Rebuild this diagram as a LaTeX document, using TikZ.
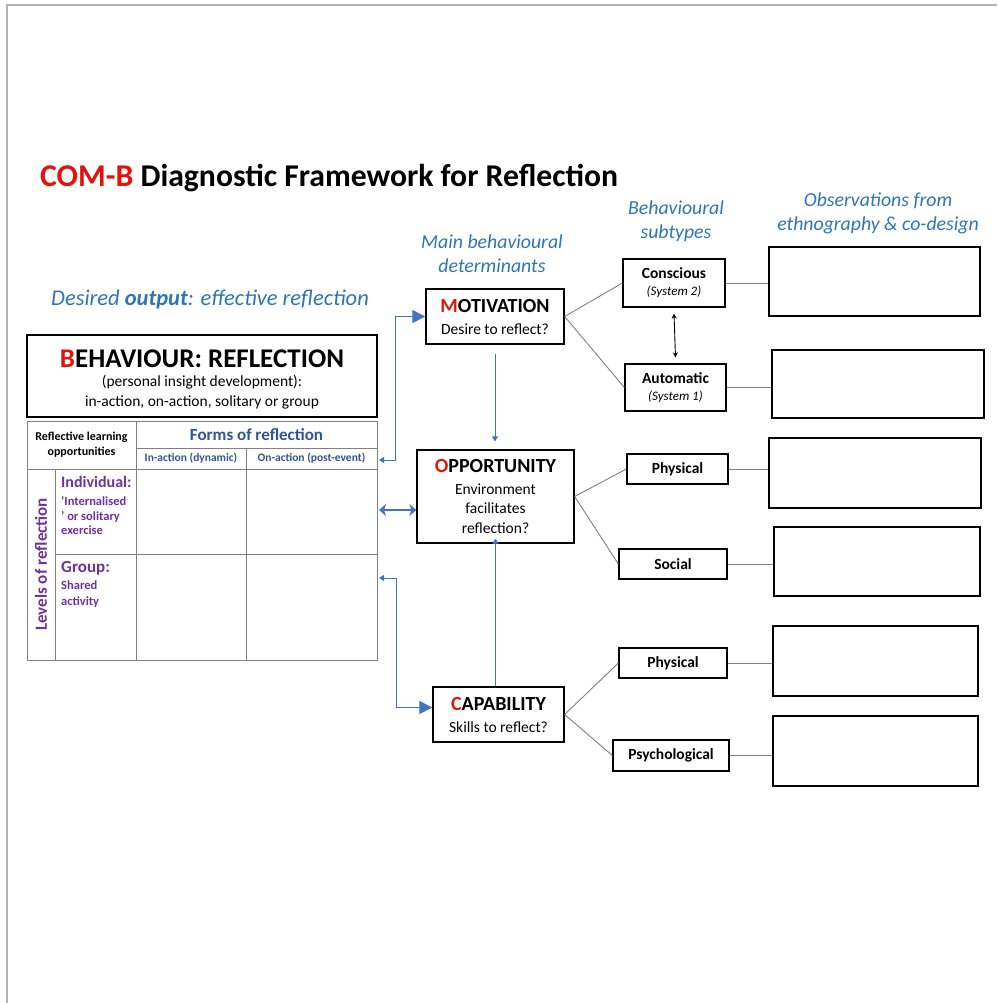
\documentclass[tikz,border=0pt]{standalone}
\usepackage{fontspec}
\setmainfont{Carlito}
\usetikzlibrary{arrows.meta,calc}
\definecolor{tred}{HTML}{E3120B}
\definecolor{lblue}{HTML}{2E75B6}
\definecolor{dblue}{HTML}{2F5597}
\definecolor{purp}{HTML}{7030A0}
\definecolor{arrblue}{HTML}{4472C4}
\definecolor{gridgray}{HTML}{808080}
\newcommand{\fsz}[2]{\fontsize{#1}{#2}\selectfont}
\begin{document}
\begin{tikzpicture}[x=1pt,y=-1pt,
  box/.style={draw=black, line width=1.3pt, inner sep=0pt, align=center},
  obsbox/.style={draw=black, line width=1.3pt, inner sep=0pt},
  cell/.style={draw=gridgray, line width=0.8pt, inner sep=0pt},
  bluelabel/.style={text=lblue, align=center, font=\fsz{19.8}{24}\itshape},
  link/.style={draw=gridgray, line width=0.9pt},
  bigarrow/.style={draw=arrblue, line width=0.9pt, {Triangle[length=5pt,width=6pt]}-{Triangle[length=13pt,width=13pt]}},
  thinarrow/.style={draw=arrblue, line width=0.8pt, -{Triangle[length=5pt,width=6pt]}},
  duoarrow/.style={draw=arrblue, line width=1.8pt, {Stealth[length=7pt,width=12pt,inset=2pt]}-{Stealth[length=7pt,width=12pt,inset=2pt]}}
]
\useasboundingbox (0,0) rectangle (997,1003);
% page frame
\draw[gray!60, line width=1.2pt] (7,1003) -- (7,5) -- (997,5);

% title and headings
\node[anchor=base west, inner sep=0pt, font=\fsz{31.7}{36}\bfseries] (title) at (40,186)
  {\textcolor{tred}{COM-B} Diagnostic Framework for Reflection};
\node[text=lblue, inner sep=0pt, font=\fsz{22.5}{26}\itshape] (desired) at (210,299)
  {Desired \textbf{output}: effective reflection};
\node[bluelabel] (mainlab) at (492,254) {Main behavioural\\determinants};
\node[bluelabel] (sublab) at (676,221) {Behavioural\\subtypes};
\node[bluelabel] (obslab) at (878,213) {Observations from\\ethnography \& co-design};

% behaviour box
\node[box, line width=1.8pt, minimum width=350pt, minimum height=82pt] (beh) at (202,376) {};
\node[align=center, inner sep=0pt, font=\fsz{15.5}{20}] (behtxt) at (202,379)
  {{\fsz{27}{30}\bfseries\textcolor{tred}{B}EHAVIOUR: REFLECTION}\\[-1pt]
   (personal insight development):\\
   in-action, on-action, solitary or group};

% reflection table
\node[cell, minimum width=109pt, minimum height=48pt, align=center,
      font=\fsz{12}{15}\bfseries] (rlo) at (81.5,445) {Reflective learning\\opportunities};
\node[cell, minimum width=241pt, minimum height=27pt, text=dblue,
      font=\fsz{17}{20}\bfseries] (forms) at (256.5,434.5) {Forms of reflection};
\node[cell, minimum width=110pt, minimum height=21pt, text=dblue,
      font=\fsz{11.5}{14}\bfseries] (inact) at (191,458.5) {In-action (dynamic)};
\node[cell, minimum width=131pt, minimum height=21pt, text=dblue,
      font=\fsz{11.5}{14}\bfseries] (onact) at (311.5,458.5) {On-action (post-event)};
\node[cell, minimum width=28pt, minimum height=191pt] (levels) at (41,564.5) {};
\node[rotate=90, text=purp, font=\fsz{17}{20}\bfseries] (levtxt) at (levels.center) {Levels of reflection};
\node[cell, minimum width=81pt, minimum height=85pt] (indiv) at (95.5,511.5) {};
\node[cell, minimum width=81pt, minimum height=106pt] (group) at (95.5,607) {};
\node[cell, minimum width=110pt, minimum height=85pt] (c11) at (191,511.5) {};
\node[cell, minimum width=131pt, minimum height=85pt] (c12) at (311.5,511.5) {};
\node[cell, minimum width=110pt, minimum height=106pt] (c21) at (191,607) {};
\node[cell, minimum width=131pt, minimum height=106pt] (c22) at (311.5,607) {};
\node[anchor=north west, inner sep=0pt, text=purp, align=left, font=\fsz{12.5}{14.8}\bfseries]
  (indivtxt) at (61,476) {{\fsz{16}{19}Individual:}\\[3pt]`Internalised\\' or solitary\\exercise};
\node[anchor=north west, inner sep=0pt, text=purp, align=left, font=\fsz{12.5}{16}\bfseries]
  (grouptxt) at (61,561) {{\fsz{17}{19}Group:}\\[1pt]Shared\\activity};

% table attachment points
\coordinate (tA) at (379,460);
\coordinate (tB) at (379,510);
\coordinate (tC) at (379,578);

% main determinants
\node[box, minimum width=138pt, minimum height=55pt, font=\fsz{15.5}{22}] (motiv) at (495,316.5)
  {{\fsz{20}{22}\bfseries\textcolor{tred}{M}OTIVATION}\\Desire to reflect?};
\node[box, minimum width=157pt, minimum height=93pt, font=\fsz{15.5}{19.5}] (opp) at (495.5,496.5)
  {{\fsz{20}{22}\bfseries\textcolor{tred}{O}PPORTUNITY}\\[2pt]Environment\\facilitates\\reflection?};
\node[box, minimum width=131pt, minimum height=55pt, font=\fsz{15.5}{22}] (cap) at (498.5,714.5)
  {{\fsz{20}{22}\bfseries\textcolor{tred}{C}APABILITY}\\Skills to reflect?};

% subtypes
\node[box, minimum width=102pt, minimum height=48pt, font=\fsz{13}{17}] (consc) at (674,283)
  {{\fsz{15.5}{18}\bfseries Conscious}\\\textit{(System 2)}};
\node[box, minimum width=101pt, minimum height=47pt, font=\fsz{13}{17}] (autom) at (675.5,387.5)
  {{\fsz{15.5}{18}\bfseries Automatic}\\\textit{(System 1)}};
\node[box, minimum width=101pt, minimum height=30pt, font=\fsz{15.5}{18}\bfseries] (physo) at (677.5,469) {Physical};
\node[box, minimum width=108pt, minimum height=30pt, font=\fsz{15.5}{18}\bfseries] (social) at (673,564) {Social};
\node[box, minimum width=108pt, minimum height=30pt, font=\fsz{15.5}{18}\bfseries] (physc) at (673,663) {Physical};
\node[box, minimum width=116pt, minimum height=31pt, font=\fsz{15.5}{18}\bfseries] (psych) at (671,755.5) {Psychological};

% observation boxes
\node[obsbox, minimum width=211pt, minimum height=69pt] (obs1) at (874.5,281.5) {};
\node[obsbox, minimum width=212pt, minimum height=68pt] (obs2) at (878,384) {};
\node[obsbox, minimum width=212pt, minimum height=70pt] (obs3) at (875,473) {};
\node[obsbox, minimum width=206pt, minimum height=69pt] (obs4) at (877,561.5) {};
\node[obsbox, minimum width=205pt, minimum height=70pt] (obs5) at (875.5,661) {};
\node[obsbox, minimum width=205pt, minimum height=70pt] (obs6) at (875.5,751) {};

% blue arrows between table and determinants
\draw[bigarrow] (tA) -- ++(16,0) |- (motiv.west);
\draw[duoarrow] (tB) -- (tB -| opp.west);
\draw[bigarrow] (tC) -- ++(17,0) |- ([yshift=7pt]cap.west);
\draw[thinarrow, shorten <=9pt, shorten >=8pt] (motiv.south) -- (motiv.south |- opp.north);
\draw[thinarrow, shorten >=-5pt] (opp.south |- cap.north) -- (opp.south);

% links to subtypes
\draw[link] (motiv.east) -- (consc.west);
\draw[link] (motiv.east) -- (autom.west);
\draw[link] (opp.east) -- (physo.west);
\draw[link] (opp.east) -- (social.west);
\draw[link] (cap.east) -- (physc.west);
\draw[link] (cap.east) -- (psych.west);
\draw[black, line width=0.9pt, {Stealth[length=5pt,width=5pt]}-{Stealth[length=5pt,width=5pt]}]
  ([yshift=-6pt]consc.south) -- ([yshift=6pt]autom.south |- autom.north);

% links to observations
\draw[link] (consc.east) -- (consc.east -| obs1.west);
\draw[link] (autom.east) -- (autom.east -| obs2.west);
\draw[link] (physo.east) -- (physo.east -| obs3.west);
\draw[link] (social.east) -- (social.east -| obs4.west);
\draw[link] (physc.east) -- (physc.east -| obs5.west);
\draw[link] (psych.east) -- (psych.east -| obs6.west);
\end{tikzpicture}
\end{document}
